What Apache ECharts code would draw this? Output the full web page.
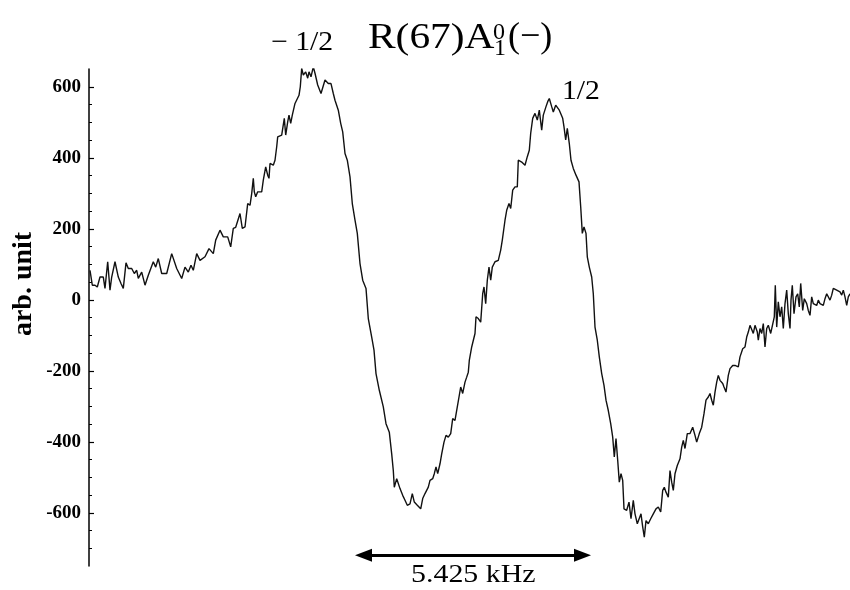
<!DOCTYPE html>
<html>
<head>
<meta charset="utf-8">
<script src="https://cdn.jsdelivr.net/npm/echarts@6/dist/echarts.min.js"></script>
<style>
  html, body { margin: 0; padding: 0; background: #fff; }
  #chart { width: 850px; height: 590px; }
</style>
</head>
<body>
<div id="chart"></div>
<script>
// frequency channel (arbitrary, left edge = 0)
var channel = [1,3.3,6,8.3,11,14.3,16,18.7,21,22.7,26,29.3,32,34.3,37,39.3,42.7,45.3,47.7,49.3,52.7,56,59.3,64.3,66.7,69.3,72.7,77.7,82.7,87.7,92.7,96,99.3,102,104.3,107.7,111,116,120,124.3,126.7,131,134.3,138.7,141.7,144.3,146.7,151,153.3,156,158.7,161,162.7,164.3,165.3,166.7,168.7,172.7,174.3,176.7,178.7,180,181,184.3,186,187.7,188.7,192.7,195.3,196.7,198.7,200,201.7,203.3,206,207.7,210,211.3,212.7,214.3,216.7,218.7,220,222,224.3,226,228.7,232,233.7,236,239.3,242,244.3,246,249.3,251.7,253.7,256,258.3,261,263.3,266,268.3,271,273.7,277,279.3,282.7,285,287,290.3,294.3,297,300.3,302.7,304.3,305.3,307.7,309.3,311,313.7,316,318.3,321,323.3,325.3,328.3,331.7,333.7,336,339.3,341,343.7,345.3,347,348.7,351,352.7,355,357,359.3,361.7,363.7,366,368.3,370.3,371.7,373.7,376,377.7,379.3,380.3,382.7,384.3,386,387,389.3,391.7,393.7,395,396.7,398.3,400,401.7,403.3,406,409.3,411.7,413.3,416,417.7,420,421.7,423.7,426,428.3,429.3,432.7,436,438.3,440.3,441.7,443.7,446,448.3,450.3,452.7,454.3,457,458.7,460.3,462.7,464.3,466.7,468.3,470.3,473.7,475,476.7,478.3,480.3,482,484.3,487,490,491.7,493.3,495,497,498.3,500.3,502.7,504.3,506,508.3,510.3,512.7,515,517,519.3,521.7,523.7,525.3,527,528.7,530.3,532,533.7,535,537.7,540,542,544.3,546,548.3,550.3,552,553.7,555.3,557,559.3,561.7,564.3,567,569.3,571.7,573.7,575.3,577,579.3,581,582.7,584.3,586,588.3,591,592.7,594.3,596,598.3,601,603.7,606,607.7,610.3,612.7,615,617,619.3,621,622.7,624.3,626,627.7,629.3,631,633.7,635,637,639.3,641,643.7,646,649.3,651,653.7,656,657.7,659.3,661,662.7,664.3,666,668.3,669.3,671,672.7,674.3,676,677.7,679.3,681.7,683.7,685.3,686.3,687.7,689.3,691,692.7,694.3,696,697.7,699.3,701,702,703.3,705,707,708.7,710.3,711.7,713.7,715.3,717.7,719.3,721,722.7,724.3,726,727.7,729.3,731,732.7,734.3,736,737.7,739.3,741,742.7,744.3,746,747.7,749.3,751,752.7,754.3,756,757.7,759.3,761];
// signal, arb. unit
var signal = [83,41,41,36,64,64,32,107,27,64,107,64,46,32,104,88,88,74,83,60,78,41,69,107,92,116,74,74,130,88,60,92,78,97,83,130,111,121,144,130,168,196,177,177,149,201,204,243,201,205,271,266,299,342,304,290,304,304,337,374,351,342,384,379,393,431,459,464,511,464,501,520,497,520,553,553,576,600,652,633,642,624,642,628,656,638,605,581,576,619,609,609,581,562,534,497,473,412,393,346,271,224,187,102,55,32,-53,-105,-142,-208,-255,-302,-349,-373,-434,-481,-528,-504,-504,-532,-551,-565,-579,-575,-546,-570,-579,-589,-560,-546,-528,-509,-504,-490,-471,-490,-462,-434,-401,-382,-387,-377,-335,-340,-302,-269,-246,-264,-232,-218,-204,-171,-133,-138,-95,-48,-53,-63,17,36,-11,55,92,55,92,107,111,140,168,224,252,271,257,309,318,318,393,388,379,403,421,469,511,525,506,534,478,520,544,558,567,544,529,548,544,534,511,487,450,483,440,393,370,351,332,262,187,205,187,121,92,64,17,-77,-114,-161,-208,-241,-283,-312,-349,-387,-443,-391,-452,-514,-490,-509,-589,-593,-570,-617,-565,-603,-631,-636,-603,-640,-669,-622,-631,-617,-603,-589,-584,-598,-537,-528,-542,-556,-481,-514,-537,-490,-467,-448,-415,-396,-419,-377,-377,-359,-382,-401,-377,-359,-321,-283,-274,-264,-283,-297,-260,-232,-213,-227,-236,-246,-260,-213,-194,-185,-185,-189,-161,-138,-133,-105,-91,-72,-77,-95,-72,-91,-114,-81,-95,-67,-133,-81,-72,-95,-100,-48,41,-77,-6,-48,-20,-81,-11,27,-39,-81,-1,41,-39,8,17,-20,46,-30,3,-11,-30,-44,8,-11,-11,-16,-1,-11,-6,-16,3,17,22,-1,13,32,36,27,32,22,13,27,8,-16,8,17];

var yTickLabels = [-600, -400, -200, 0, 200, 400, 600];
var yMinorTicks = [-700, -650, -550, -500, -450, -350, -300, -250, -150, -100, -50, 50, 100, 150, 250, 300, 350, 450, 500, 550];
// peak splitting arrow (symbol centres), channel span and height
var splitFrom = 274.5;
var splitTo = 493.5;
var splitLevel = -720;

var serif = '"Liberation Serif", "Times New Roman", serif';

var points = [];
for (var i = 0; i < channel.length; i++) {
    points.push([channel[i], signal[i]]);
}

var chart = echarts.init(document.getElementById('chart'));
var option = {
    backgroundColor: '#fff',
    animation: false,
    grid: { left: 89, right: 0, top: 69, bottom: 24 },
    xAxis: {
        type: 'value', min: 0, max: 761, show: false
    },
    yAxis: [
        {
            type: 'value', min: -750, max: 650, position: 'left',
            axisLine: { show: true, onZero: false, lineStyle: { color: '#000', width: 1.5 } },
            axisTick: { show: true, inside: true, length: 5, customValues: yTickLabels, lineStyle: { color: '#000', width: 1.2 } },
            axisLabel: { customValues: yTickLabels, fontFamily: serif, fontWeight: 'bold', fontSize: 19, color: '#000', margin: 8 },
            splitLine: { show: false }
        },
        {
            type: 'value', min: -750, max: 650, position: 'left',
            axisLine: { show: false, onZero: false },
            axisTick: { show: true, inside: true, length: 3, customValues: yMinorTicks, lineStyle: { color: '#000', width: 1 } },
            axisLabel: { show: false },
            splitLine: { show: false }
        }
    ],
    series: [{
        type: 'line',
        data: points,
        showSymbol: false,
        symbol: 'none',
        lineStyle: { color: '#111', width: 1.4 },
        markLine: {
            silent: true,
            symbol: ['triangle', 'triangle'],
            symbolSize: [13, 17],
            label: { show: false },
            lineStyle: { color: '#000', width: 3, type: 'solid' },
            data: [[{ coord: [splitFrom, splitLevel] }, { coord: [splitTo, splitLevel] }]]
        }
    }],
    graphic: [
        { type: 'text', x: 24, y: 284, rotation: Math.PI / 2,
          style: { text: 'arb. unit', font: 'bold 28px ' + serif, fill: '#000', align: 'center', verticalAlign: 'middle' } },
        { type: 'text', x: 368, y: 39, scaleX: 1.15,
          style: { text: 'R(67)A', font: '36px ' + serif, fill: '#000', align: 'left', verticalAlign: 'middle' } },
        { type: 'text', x: 493, y: 33,
          style: { text: '0', font: '24px ' + serif, fill: '#000', align: 'left', verticalAlign: 'middle' } },
        { type: 'text', x: 494, y: 49,
          style: { text: '1', font: '24px ' + serif, fill: '#000', align: 'left', verticalAlign: 'middle' } },
        { type: 'text', x: 508, y: 38,
          style: { text: '(\u2212)', font: '36px ' + serif, fill: '#000', align: 'left', verticalAlign: 'middle' } },
        { type: 'text', x: 271, y: 43, scaleX: 1.1,
          style: { text: '\u2212 1/2', font: '27px ' + serif, fill: '#000', align: 'left', verticalAlign: 'middle' } },
        { type: 'text', x: 562, y: 92, scaleX: 1.1,
          style: { text: '1/2', font: '27px ' + serif, fill: '#000', align: 'left', verticalAlign: 'middle' } },
        { type: 'text', x: 411, y: 575, scaleX: 1.15,
          style: { text: '5.425 kHz', font: '26px ' + serif, fill: '#000', align: 'left', verticalAlign: 'middle' } }
    ]
};
chart.setOption(option);
</script>
</body>
</html>
